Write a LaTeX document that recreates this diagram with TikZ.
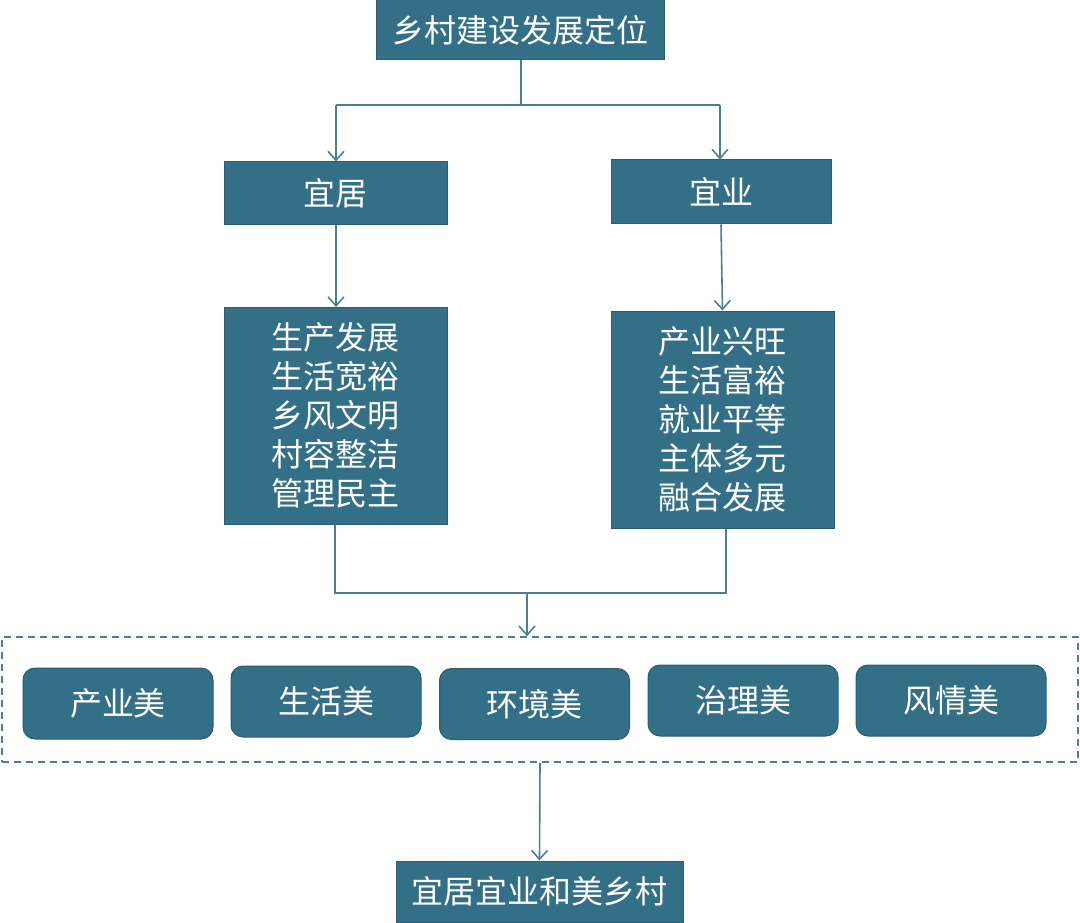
\documentclass[tikz,border=0pt]{standalone}
\usepackage{fontspec}
\setmainfont{Noto Sans CJK SC}
\usetikzlibrary{arrows.meta}
\definecolor{boxfill}{HTML}{336F87}
\definecolor{boxline}{HTML}{2B5E72}
\definecolor{conn}{HTML}{4A7F96}
\tikzset{
  sqbox/.style={rectangle, fill=boxfill, draw=boxline, line width=1pt, text=white, inner sep=0pt, align=center, font=\fontsize{32}{39}\selectfont},
  rbox/.style={sqbox, rounded corners=12pt, minimum width=190pt, minimum height=71pt},
  conline/.style={draw=conn, line width=1.6pt},
  arr/.style={conline, -{Straight Barb[length=9pt, width=16pt, line width=1.6pt]}},
  dashbox/.style={rectangle, draw=conn, line width=1.6pt, dash pattern=on 7pt off 5pt}
}
\begin{document}
\begin{tikzpicture}[x=1pt, y=-1pt]
\useasboundingbox (0,0) rectangle (1080,923);
\node[sqbox, minimum width=288pt, minimum height=60pt] (top) at (520,30) {乡村建设发展定位};
\node[sqbox, minimum width=223pt, minimum height=63pt] (yiju) at (335.5,193.5) {宜居};
\node[sqbox, minimum width=220pt, minimum height=64pt] (yiye) at (721,192) {宜业};
\node[sqbox, minimum width=223pt, minimum height=217pt] (ljl) at (335.5,415.5) {生产发展\\生活宽裕\\乡风文明\\村容整洁\\管理民主};
\node[sqbox, minimum width=223pt, minimum height=217pt] (rjl) at (722.5,419.5) {产业兴旺\\生活富裕\\就业平等\\主体多元\\融合发展};
\node[dashbox, minimum width=1076pt, minimum height=125pt] (dash) at (540,699.5) {};
\node[rbox] (m1) at (118,703.5) {产业美};
\node[rbox] (m2) at (326,701.5) {生活美};
\node[rbox] (m3) at (534.5,704) {环境美};
\node[rbox] (m4) at (743,700.5) {治理美};
\node[rbox] (m5) at (951,700.5) {风情美};
\node[sqbox, minimum width=287pt, minimum height=61pt] (bot) at (539.5,891.5) {宜居宜业和美乡村};
% top split
\coordinate (j1) at (521,105);
\coordinate (jl) at (336,105);
\coordinate (jr) at (720,105);
\draw[conline] (j1 |- top.south) -- (j1);
\draw[conline] (jl) -- (jr);
\draw[arr] (jl) -- (jl |- yiju.north);
\draw[arr] (jr) -- (jr |- yiye.north);
% to lists
\draw[arr] (336,225) -- (336,307);
\draw[arr] (yiye.south) -- (rjl.north);
% merge
\coordinate (ml) at (335,593);
\coordinate (mr) at (726,593);
\coordinate (mc) at (527,593);
\draw[conline] (ml |- ljl.south) -- (ml) -- (mr) -- (mr |- rjl.south);
\draw[arr] (mc) -- (mc |- dash.north);
% to bottom
\draw[arr] (dash.south) -- (bot.north);
\end{tikzpicture}
\end{document}
